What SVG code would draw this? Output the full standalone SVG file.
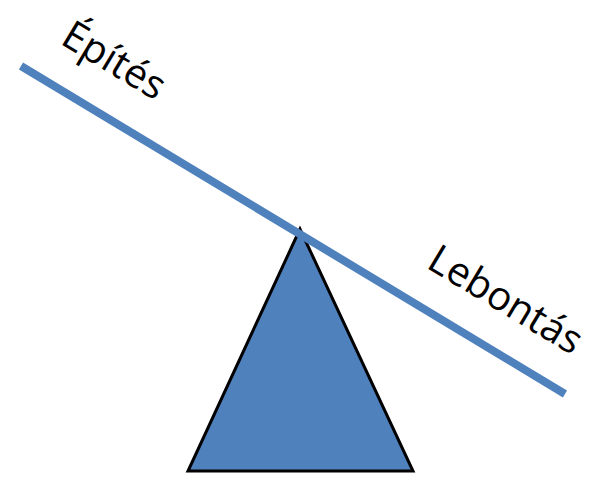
<svg xmlns="http://www.w3.org/2000/svg" width="595" height="477" viewBox="0 0 595 477">
<style>
.lbl{font-family:"Open Sans","Noto Sans",sans-serif;font-size:40px;fill:#000}
</style>
<rect width="595" height="477" fill="#fff"/>
<g id="fulcrum">
<polygon points="300,229 188,471 413,471" fill="#4F81BD" stroke="#000" stroke-width="3" stroke-linejoin="miter"/>
</g>
<g id="connectors">
<line x1="21" y1="66" x2="565" y2="394" stroke="#4F81BD" stroke-width="8"/>
</g>
<g id="epites">
<text class="lbl" transform="translate(59,43) rotate(31)">Építés</text>
</g>
<g id="lebontas">
<text class="lbl" transform="translate(425,267) rotate(31)">Lebontás</text>
</g>
</svg>
